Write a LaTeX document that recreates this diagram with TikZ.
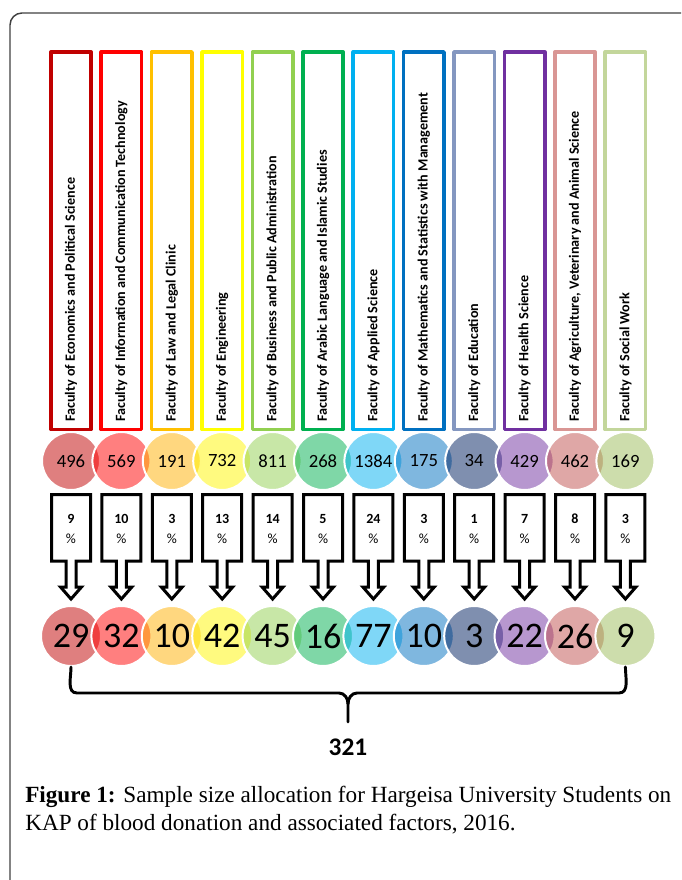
\documentclass[tikz,border=0pt]{standalone}
\usepackage{fontspec}
\setmainfont{Liberation Serif}
\newfontfamily\calib{Carlito}
\usepackage{tikz}
\usetikzlibrary{calc}
% box colours and circle colours
\definecolor{fb1}{HTML}{C00000}\definecolor{fc1}{HTML}{C00000}
\definecolor{fb2}{HTML}{FF0000}\definecolor{fc2}{HTML}{FF0000}
\definecolor{fb3}{HTML}{FFC000}\definecolor{fc3}{HTML}{FFB000}
\definecolor{fb4}{HTML}{FFFF00}\definecolor{fc4}{HTML}{FFF500}
\definecolor{fb5}{HTML}{92D050}\definecolor{fc5}{HTML}{92D050}
\definecolor{fb6}{HTML}{00B050}\definecolor{fc6}{HTML}{00B050}
\definecolor{fb7}{HTML}{00B0F0}\definecolor{fc7}{HTML}{00B0F0}
\definecolor{fb8}{HTML}{0070C0}\definecolor{fc8}{HTML}{0070C0}
\definecolor{fb9}{HTML}{8497C0}\definecolor{fc9}{HTML}{002060}
\definecolor{fb10}{HTML}{7030A0}\definecolor{fc10}{HTML}{7030A0}
\definecolor{fb11}{HTML}{D99694}\definecolor{fc11}{HTML}{C0504D}
\definecolor{fb12}{HTML}{C3D69B}\definecolor{fc12}{HTML}{9BBB59}
\definecolor{framegray}{HTML}{404040}
\tikzset{
  facbox/.style={line width=2.6pt,line join=round},
  faclbl/.style={rotate=90,anchor=west,inner sep=0pt,
    font=\calib\bfseries\fontsize{10.6}{12}\selectfont},
  cnt/.style={circle,minimum size=43.5pt,inner sep=0pt,draw=white,line width=1.5pt,
    fill opacity=0.5,text opacity=1,font=\calib\fontsize{14}{15}\selectfont},
  smp/.style={cnt,minimum size=45pt,font=\calib\fontsize{27}{28}\selectfont},
  callout/.style={line width=2.25pt,line join=miter},
  pcttxt/.style={align=center,inner sep=0pt,font=\calib\fontsize{10.5}{15}\selectfont},
  brc/.style={line width=2.2pt,line cap=round},
}
\begin{document}
\begin{tikzpicture}[x=0.75pt,y=-0.75pt]
  \useasboundingbox (0,0) rectangle (681,880);
  \clip (0,0) rectangle (681,880);
  % outer frame, open to the right and bottom
  \draw[framegray,line width=1.1pt,rounded corners=9] (10,900) -- (10,13) -- (700,13);
  \foreach \i/\lbl/\N/\p/\n in {
      1/{Faculty of Economics and Political Science}/496/9/29,
      2/{Faculty of Information and Communication Technology}/569/10/32,
      3/{Faculty of Law and Legal Clinic}/191/3/10,
      4/{Faculty of Engineering}/732/13/42,
      5/{Faculty of Business and Public Administration}/811/14/45,
      6/{Faculty of Arabic Language and Islamic Studies}/268/5/16,
      7/{Faculty of Applied Science}/1384/24/77,
      8/{Faculty of Mathematics and Statistics with Management}/175/3/10,
      9/{Faculty of Education}/34/1/3,
      10/{Faculty of Health Science}/429/7/22,
      11/{Faculty of Agriculture, Veterinary and Animal Science}/462/8/26,
      12/{Faculty of Social Work}/169/3/9}{
    \pgfmathsetmacro{\x}{71+50.4*(\i-1)}
    \draw[facbox,fb\i] (\x-20.2,52) rectangle (\x+20.2,429.5); % faculty box
    \node[faclbl] (fac\i) at (\x,422) {\lbl};
    \node[cnt,fill=fc\i] (cnt\i) at (\x,461) {\N};
    % percentage callout with down arrow
    \draw[callout] (\x-19.5,494.5) -- (\x+19.5,494.5) -- (\x+19.5,561) -- (\x+5,561)
      -- (\x+5,587) -- (\x+10.5,587) -- (\x,599) -- (\x-10.5,587) -- (\x-5,587)
      -- (\x-5,561) -- (\x-19.5,561) -- cycle;
    \node[pcttxt] (pct\i) at (\x,529) {\textbf{\p}\\\%};
    \node[smp,fill=fc\i] (smp\i) at (\x,636) {\n};
  }
  % brace collecting the samples
  \coordinate (tip) at (348,722);
  \draw[brc] (smp1.south) to[out=-90,in=180] (77,693) -- (339,693)
    to[out=0,in=90] (348,704) -- (tip);
  \draw[brc] (smp12.south) to[out=-90,in=0] (619,693) -- (357,693)
    to[out=180,in=90] (348,704);
  \node[font=\calib\bfseries\fontsize{19}{20}\selectfont] (tot) at (348,747) {321};
  \node[anchor=north west,align=left,inner sep=0pt,
    font=\fontsize{17.4}{21}\selectfont] (cap) at (25,786)
    {\textbf{Figure 1:} Sample size allocation for Hargeisa University Students on\\
     KAP of blood donation and associated factors, 2016.};
\end{tikzpicture}
\end{document}
